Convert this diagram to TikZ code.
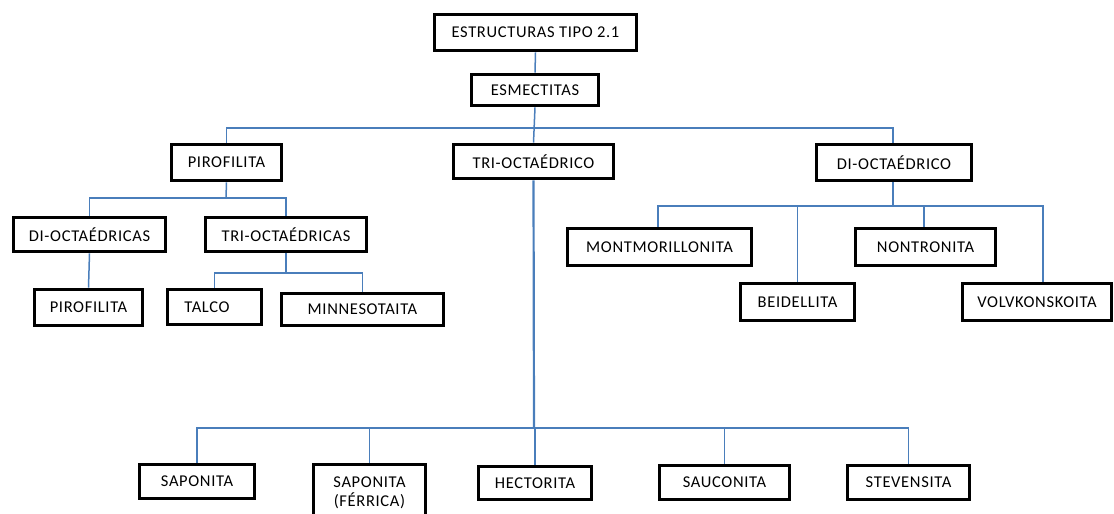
\documentclass[tikz,border=0pt]{standalone}
\usepackage{fontspec}
\setmainfont{Carlito}[LetterSpace=4]
\definecolor{conn}{HTML}{4A7EBB}
\tikzset{
  box/.style={draw=black, line width=3.6pt, fill=white, inner sep=0pt,
    font=\fontsize{16.5}{19}\selectfont, align=center},
  link/.style={draw=conn, line width=1.5pt},
}
\begin{document}
\begin{tikzpicture}[x=1pt,y=-1pt]
\useasboundingbox (0,0) rectangle (1114,514);
\clip (0,0) rectangle (1114,514);
% boxes
\node[box, minimum width=202, minimum height=36] (est) at (535.5,32.5) {ESTRUCTURAS TIPO 2.1};
\node[box, minimum width=127, minimum height=31] (esm) at (535,90) {ESMECTITAS};
\node[box, minimum width=110, minimum height=36] (piro1) at (226.5,162.5) {PIROFILITA};
\node[box, minimum width=160, minimum height=34] (trio) at (533.5,161.5) {TRI-OCTAÉDRICO};
\node[box, minimum width=155, minimum height=36] (dio) at (894,162.5) {DI-OCTAÉDRICO};
\node[box, minimum width=152, minimum height=34] (dicas) at (89.5,234.5) {DI-OCTAÉDRICAS};
\node[box, minimum width=161, minimum height=34] (tricas) at (286,234.5) {TRI-OCTAÉDRICAS};
\node[box, minimum width=108, minimum height=36] (piro2) at (88.5,307.5) {PIROFILITA};
\node[box, minimum width=94, minimum height=35] (talco) at (214.5,307) {\hspace*{-15pt}TALCO};
\node[box, minimum width=162, minimum height=32] (minn) at (362.5,309.5) {MINNESOTAITA};
\node[box, minimum width=184, minimum height=37] (montm) at (659.5,247) {MONTMORILLONITA};
\node[box, minimum width=140, minimum height=37] (nontr) at (925.5,247) {NONTRONITA};
\node[box, minimum width=114, minimum height=37] (beid) at (797.5,302) {BEIDELLITA};
\node[box, minimum width=149, minimum height=37] (volk) at (1037,302) {VOLVKONSKOITA};
\node[box, minimum width=115, minimum height=34] (sap) at (197,481.5) {SAPONITA};
\node[box, minimum width=112, minimum height=56] (sapf) at (369.5,492.5) {SAPONITA\\(FÉRRICA)};
\node[box, minimum width=113, minimum height=33] (hect) at (535,483) {HECTORITA};
\node[box, minimum width=130, minimum height=34] (sauc) at (724.5,482.5) {SAUCONITA};
\node[box, minimum width=122, minimum height=34] (stev) at (908.5,482.5) {STEVENSITA};
% junction coordinates
\coordinate (j1) at (535,128);
\coordinate (j2) at (226,198);
\coordinate (j3) at (286,273);
\coordinate (j4) at (893,206);
\coordinate (j5) at (534,428);
% connectors
\path[link] (est.south) -- (esm.north);
\path[link] (esm.south) -- (trio.north);
\path[link] (piro1.north) |- (j1) -| ([xshift=-1pt]dio.north);
\path[link] (piro1.south) -- (j2);
\path[link] (dicas.north) |- (j2) -| (tricas.north);
\path[link] (dicas.south) -- (piro2.north);
\path[link] (tricas.south) -- (j3);
\path[link] (talco.north) |- (j3) -| (minn.north);
\path[link] ([xshift=-1pt]dio.south) -- (j4);
\path[link] ([xshift=-1.5pt]montm.north) |- (j4) -| ([xshift=6pt]volk.north);
\path[link] (beid.north) -- (beid.north |- j4);
\path[link] ([xshift=-1.5pt]nontr.north) -- ([xshift=-1.5pt]nontr.north |- j4);
\path[link, line width=2.2pt] (trio.south) -- (j5);
\path[link] (j5) -| (stev.north);
\path[link, line width=2.2pt] (sap.north) |- (j5);
\path[link] (sapf.north) -- (sapf.north |- j5);
\path[link] (hect.north) -- (hect.north |- j5);
\path[link] (sauc.north) -- (sauc.north |- j5);
\end{tikzpicture}
\end{document}
